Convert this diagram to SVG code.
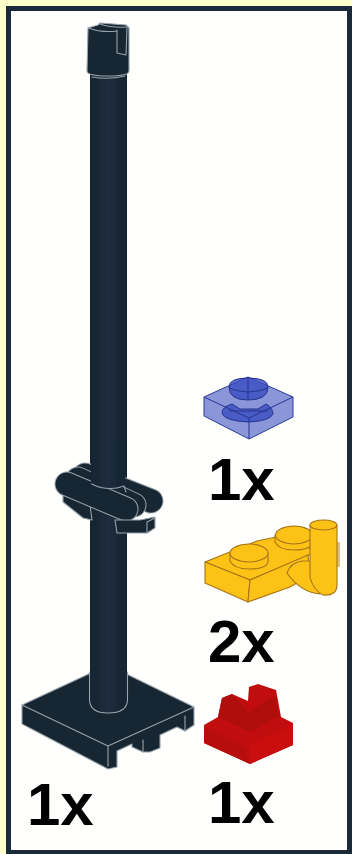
<svg xmlns="http://www.w3.org/2000/svg" width="352" height="854" viewBox="0 0 352 854">
<defs>
<filter id="s" x="-5%" y="-5%" width="110%" height="110%"><feGaussianBlur stdDeviation="0.45"/></filter>
<linearGradient id="p" x1="0" x2="1" y1="0" y2="0"><stop offset="0" stop-color="#162433"/><stop offset=".5" stop-color="#1c2d3c"/><stop offset="1" stop-color="#162433"/></linearGradient>
</defs>
<style>
.t{font-family:"Liberation Sans",Arial,sans-serif;font-weight:700;font-size:60px;fill:#000}
.d{fill:#182531;stroke:#98a4ac;stroke-width:1.1;stroke-linejoin:round}
.n{fill:url(#p);stroke:none}
.e{fill:none;stroke:#98a4ac;stroke-width:1.1;stroke-linecap:round;stroke-linejoin:round}
.k{fill:none;stroke-linecap:round}
.y{fill:#fcc214;stroke:#a8741a;stroke-width:1.1;stroke-linejoin:round}
.b{fill:#8a96d8;stroke:#2a3a9c;stroke-width:1;stroke-linejoin:round}
.b2{fill:#3a4cc0;fill-opacity:.8;stroke:#26348f;stroke-width:1}
</style>
<rect width="352" height="854" fill="#ffffcc"/>
<rect x="8.5" y="8.5" width="341" height="844" fill="#fffffd" stroke="#1b2a38" stroke-width="5"/>
<g id="pole" filter="url(#s)">
<path class="d" d="M22 705L108 665L194 707L194 725L185 731L177 727L160 735L160 748L150 752L143 752L132 747L132 744L117 751L117 767L108 769L22 724Z"/>
<path class="e" d="M22 705L108 746L194 707M108 746L108 766M143 740L143 752M185 716L185 731"/>
<path class="n" d="M90 70L90 700Q90 713 108 713Q127 713 127 700L127 70Z"/>
<path class="e" d="M89.500 672L89.500 700Q90 713 108 713Q127 713 127.500 700L127.500 672"/>
<path class="d" d="M63 495L90 505L92 520L83 518L63 502Z" stroke="#98a4ac"/>
<path class="d" d="M76 470L90 464L104 472L90 484Z" stroke="none"/>
<path class="k" stroke="#98a4ac" stroke-width="25" d="M85 475L151 501"/>
<path class="k" stroke="#182531" stroke-width="23" d="M85 475L151 501"/>
<path class="k" stroke="#98a4ac" stroke-width="25" d="M78 479L134 505"/>
<path class="k" stroke="#182531" stroke-width="23" d="M78 479L134 505"/>
<path class="k" stroke="#98a4ac" stroke-width="25" d="M67 484L126 509"/>
<path class="k" stroke="#182531" stroke-width="23" d="M67 484L126 509"/>
<path class="n" d="M91 440L91 486Q108 492 125 487L125 440Z"/>
<path class="e" d="M91.500 484Q108 492 124 486L126 492"/>
<path class="d" d="M115 520L140 520L155 517L155 528L147 533L117 533Z"/>
<path class="e" d="M147 522L147 533M147 522L155 518"/>
<path class="d" d="M88 28L98 25L100 23L126 25L129 28L129 71Q129 76 108 76Q87 76 87 71Z"/>
<path class="e" d="M88 28Q102 33 117 31M117 30L117 53L126 55L127 28M100 24Q112 28 127 27M92 77Q108 80 125 76"/>
</g>
<g id="blue-plate">
<g filter="url(#s)">
<path class="b" d="M204 397L248 377L293 397L293 417L249 439L204 416Z"/>
<path class="b2" d="M229 387Q229 378 248 378Q268 378 268 387Q268 400 248 400Q229 400 229 387Z"/>
<path class="b2" d="M222 413Q222 407 232 404L240 409L258 409L266 404Q273 408 273 414Q270 421 249 422Q224 421 222 413Z"/>
<path fill="none" stroke="#26348f" d="M204 397L249 418L293 397M249 418L249 439M229 388Q248 396 268 388M248 378L248 400M229 411L268 411"/>
</g>
<text class="t" x="208" y="500">1x</text>
</g>
<g id="yellow-plate">
<g filter="url(#s)">
<path fill="#d8c088" d="M336 542L340 542L340 567L336 567Z"/>
<path class="y" d="M205 562L257 541L300 532L312 552L308 556L250 580Z"/>
<path class="y" d="M205 562L250 580L248 602L205 583Z"/>
<path class="y" d="M250 580L308 555L310 575L290 587L248 602Z"/>
<path class="y" d="M287 573Q290 563 302 561L312 561L320 594Q300 592 287 573Z"/>
<path class="y" d="M230 553L230 561Q234 569 249 569Q268 569 268 561L268 553Z"/>
<ellipse class="y" cx="249" cy="553" rx="19" ry="9"/>
<path class="y" d="M275 535L275 542Q279 550 294 550Q312 550 312 542L312 535Z"/>
<ellipse class="y" cx="294" cy="535" rx="18.500" ry="9"/>
<path class="y" d="M310 525L310 577Q313 590 323 595Q337 596 337 585L337 525Z"/>
<ellipse class="y" cx="323.500" cy="525" rx="13.500" ry="5"/>
</g>
<text class="t" x="208" y="662">2x</text>
</g>
<g id="red-clip">
<g filter="url(#s)">
<path fill="#c10a10" d="M204 725L218 717L222 698L232 694L248 701L249 687L258 684L276 690L281 717L293 723L293 745L250 764L204 743Z"/>
<path fill="#b0090d" d="M218 717L222 698L232 694L248 712L262 703L276 695L279 716L250 732Z"/>
<path fill="#b8090e" d="M204 727L246 747L250 764L204 743Z"/>
<path fill="#ca0b10" d="M250 745L293 725L293 745L250 764Z"/>
</g>
<text class="t" x="208" y="823">1x</text>
</g>
<text class="t" x="27" y="825">1x</text>
</svg>
